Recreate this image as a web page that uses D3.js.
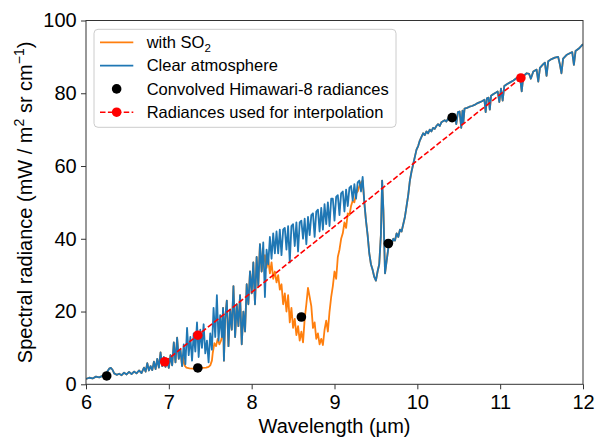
<!DOCTYPE html>
<html><head><meta charset="utf-8">
<script src="https://cdn.jsdelivr.net/npm/d3@7"></script>
<style>body{margin:0;background:#fff}svg{display:block}</style>
</head><body><svg id="c" width="597" height="441"></svg>
<script>
// ---- data ----
const clearAtmosphere = [
[6.00,1.5],[6.04,1.8],[6.08,1.6],[6.12,2.1],[6.16,1.9],[6.20,2.3],[6.23,2.2],[6.26,3.6],[6.28,4.3],[6.30,4.5],
[6.32,4.0],[6.34,3.0],[6.37,2.6],[6.40,2.9],[6.43,2.5],[6.46,3.2],[6.49,2.7],[6.52,3.4],[6.55,2.8],[6.58,3.5],
[6.61,3.0],[6.64,3.8],[6.67,3.1],[6.70,4.6],[6.72,3.5],[6.74,5.8],[6.76,3.8],[6.78,5.0],[6.80,3.9],[6.82,6.2],
[6.84,4.2],[6.86,7.0],[6.88,4.6],[6.90,8.8],[6.92,5.0],[6.94,7.5],[6.96,4.8],[6.98,6.5],[7.00,4.5],[7.02,8.0],
[7.04,5.2],[7.06,11.5],[7.08,6.0],[7.10,12.8],[7.12,7.0],[7.14,9.5],[7.16,5.0],[7.18,11.0],[7.20,5.5],[7.22,15.5],
[7.24,8.0],[7.26,13.0],[7.28,6.5],[7.30,14.0],[7.32,9.0],[7.34,17.0],[7.36,7.5],[7.38,15.0],[7.40,10.0],[7.42,16.5],
[7.44,8.5],[7.46,12.0],[7.48,6.0],[7.50,14.0],[7.52,9.5],[7.54,21.0],[7.56,13.0],[7.58,24.5],[7.60,12.0],[7.62,19.0],
[7.64,13.0],[7.655,21.0],[7.665,6.5],[7.68,18.0],[7.70,23.0],[7.72,10.5],[7.74,20.5],[7.76,15.0],[7.78,27.0],[7.80,13.0],
[7.82,22.0],[7.84,16.0],[7.86,24.5],[7.88,11.0],[7.90,20.0],[7.92,14.5],[7.94,27.5],[7.96,22.0],[7.98,31.0],[8.00,25.0],
[8.02,33.5],[8.04,22.0],[8.06,35.0],[8.08,27.0],[8.10,38.5],[8.12,31.0],[8.14,39.0],[8.16,24.0],[8.18,37.0],[8.20,33.0],
[8.22,40.5],[8.24,34.5],[8.26,41.5],[8.28,36.0],[8.30,42.0],[8.32,36.0],[8.34,42.5],[8.36,35.5],[8.38,42.5],[8.40,43.0],
[8.42,37.0],[8.44,43.5],[8.46,33.5],[8.48,43.5],[8.50,44.0],[8.52,38.0],[8.54,44.5],[8.56,36.5],[8.58,44.5],[8.60,45.0],
[8.62,40.0],[8.64,45.5],[8.66,38.5],[8.68,46.0],[8.70,41.0],[8.72,46.5],[8.74,47.0],[8.76,40.5],[8.78,47.5],[8.80,48.0],
[8.82,42.0],[8.84,48.5],[8.86,42.5],[8.88,49.5],[8.90,44.0],[8.92,50.0],[8.94,43.5],[8.96,51.0],[8.98,51.0],[9.00,45.0],
[9.02,51.5],[9.04,52.0],[9.06,46.5],[9.08,52.5],[9.10,53.0],[9.12,47.5],[9.14,53.5],[9.16,49.0],[9.18,54.0],[9.20,54.5],
[9.22,50.5],[9.24,55.0],[9.26,51.0],[9.28,55.5],[9.30,56.0],[9.32,53.0],[9.34,57.0],[9.36,50.0],[9.38,45.0],[9.40,41.0],
[9.42,36.0],[9.44,33.0],[9.46,31.5],[9.48,29.5],[9.50,28.5],[9.52,31.0],[9.54,33.0],[9.56,41.0],[9.575,56.0],[9.59,48.0],
[9.61,30.5],[9.63,34.0],[9.65,37.5],[9.67,39.0],[9.69,38.5],[9.71,40.0],[9.73,39.5],[9.75,41.5],[9.77,40.5],[9.79,42.5],
[9.81,42.0],[9.83,44.0],[9.85,46.0],[9.87,49.0],[9.89,52.0],[9.91,56.0],[9.93,58.5],[9.95,60.5],[9.97,62.5],[9.99,64.5],
[10.01,65.5],[10.03,67.0],[10.05,68.0],[10.07,69.0],[10.09,68.5],[10.11,69.5],[10.13,69.0],[10.15,70.0],[10.17,69.5],[10.19,70.5],
[10.21,70.2],[10.23,71.0],[10.25,71.5],[10.27,71.0],[10.29,72.0],[10.31,72.3],[10.33,72.6],[10.35,72.2],[10.37,73.0],[10.39,73.3],
[10.41,73.6],[10.43,73.8],[10.45,74.3],[10.47,71.5],[10.49,74.8],[10.51,75.0],[10.53,70.5],[10.545,75.2],[10.555,71.8],[10.57,75.8],
[10.60,76.0],[10.63,76.3],[10.66,76.5],[10.69,76.8],[10.72,77.2],[10.75,77.5],[10.78,77.8],[10.81,78.2],[10.825,74.8],[10.84,78.6],
[10.86,78.8],[10.875,75.5],[10.89,79.3],[10.92,79.8],[10.95,80.2],[10.97,80.5],[10.99,77.6],[11.01,81.3],[11.03,78.0],[11.05,82.0],
[11.08,82.5],[11.12,83.0],[11.16,83.5],[11.20,84.2],[11.24,84.4],[11.26,80.5],[11.28,84.7],[11.32,85.5],[11.35,85.3],[11.37,84.0],
[11.40,86.0],[11.44,86.5],[11.46,83.2],[11.48,87.0],[11.52,88.0],[11.54,88.4],[11.56,84.8],[11.58,88.8],[11.62,89.4],[11.66,89.8],
[11.70,90.0],[11.72,88.0],[11.74,85.5],[11.76,89.5],[11.80,90.5],[11.84,91.0],[11.87,91.3],[11.89,87.8],[11.91,91.6],[11.95,92.3],
[11.98,93.0],[12.00,93.5]
];
// Spectrum with SO2: differs from the clear atmosphere in the two SO2 bands
const so2Band73 = [
[7.17,7.6],[7.19,5.2],[7.21,4.6],[7.25,4.4],[7.30,4.3],[7.35,4.4],[7.40,4.5],[7.45,4.6],[7.48,4.8],[7.50,5.2],
[7.52,6.5],[7.53,8.6],[7.55,11.3],[7.57,10.5],[7.59,12.5],[7.61,11.0],[7.63,12.0]
];
const so2Band86 = [
[8.14,33.0],[8.16,35.5],[8.18,32.0],[8.20,34.5],[8.22,30.5],[8.24,33.5],[8.26,29.0],[8.28,31.0],[8.30,28.0],[8.32,30.0],
[8.34,26.0],[8.36,27.5],[8.38,22.0],[8.40,25.0],[8.42,20.0],[8.44,24.5],[8.46,17.0],[8.48,21.0],[8.50,15.5],[8.52,18.0],
[8.54,13.5],[8.56,16.0],[8.58,12.0],[8.60,14.5],[8.62,11.5],[8.64,18.0],[8.66,22.0],[8.68,26.5],[8.70,24.0],[8.72,21.5],
[8.74,15.5],[8.76,17.0],[8.78,12.5],[8.80,14.0],[8.82,11.0],[8.84,12.5],[8.86,10.8],[8.88,15.0],[8.90,17.5],[8.92,14.5],
[8.94,20.0],[8.96,24.0],[8.98,27.0],[9.00,31.0],[9.02,29.0],[9.04,35.0],[9.06,37.0],[9.08,40.0],[9.10,41.5],[9.12,44.5],
[9.14,43.0],[9.16,47.0],[9.18,46.5],[9.20,49.0],[9.22,50.5],[9.24,50.0],[9.26,52.5],[9.28,53.0],[9.30,54.5],[9.32,55.5],
[9.34,56.0],[9.36,50.0]
];
const himawariWl  = [6.25, 7.35, 8.60, 9.65, 10.42];
const himawariRad = [2.3, 4.5, 18.5, 38.7, 73.3];
const interpWl  = [6.95, 7.35, 11.25];
const interpRad = [6.2, 13.5, 84.2];
const xTicks = [6, 7, 8, 9, 10, 11, 12];
const yTicks = [0, 20, 40, 60, 80, 100];

// ---- assemble SO2 series from read segments ----
const withSO2 = [].concat(
  clearAtmosphere.filter(d => d[0] < 7.17),
  so2Band73,
  clearAtmosphere.filter(d => d[0] >= 7.64 && d[0] < 8.14),
  so2Band86,
  clearAtmosphere.filter(d => d[0] > 9.37)
);

// ---- layout ----
const svg = d3.select('#c');
const L = 86, R = 583, T = 20.5, B = 384.3;
const x = d3.scaleLinear().domain([6, 12]).range([L, R]);
const y = d3.scaleLinear().domain([0, 100]).range([B, T]);
const FONT = '"Liberation Sans", Arial, Helvetica, sans-serif';

svg.append('defs').append('clipPath').attr('id', 'clip')
  .append('rect').attr('x', L).attr('y', T).attr('width', R - L).attr('height', B - T);

const line = d3.line().x(d => x(d[0])).y(d => y(d[1]));
const plot = svg.append('g').attr('clip-path', 'url(#clip)');

plot.append('path').datum(withSO2).attr('d', line)
  .attr('fill', 'none').attr('stroke', '#ff7f0e').attr('stroke-width', 1.8).attr('stroke-linejoin', 'round');
plot.append('path').datum(clearAtmosphere).attr('d', line)
  .attr('fill', 'none').attr('stroke', '#1f77b4').attr('stroke-width', 1.8).attr('stroke-linejoin', 'round');

plot.selectAll('circle.him').data(himawariWl).join('circle').attr('class', 'him')
  .attr('cx', d => x(d)).attr('cy', (d, i) => y(himawariRad[i])).attr('r', 4.8).attr('fill', '#000');

const interp = interpWl.map((w, i) => [w, interpRad[i]]);
plot.append('path').datum(interp).attr('d', line)
  .attr('fill', 'none').attr('stroke', '#ff0000').attr('stroke-width', 1.6).attr('stroke-dasharray', '5.5,2.4');
plot.selectAll('circle.int').data(interp).join('circle').attr('class', 'int')
  .attr('cx', d => x(d[0])).attr('cy', d => y(d[1])).attr('r', 4.8).attr('fill', '#ff0000');

// ---- axes ----
const xa = svg.append('g').attr('transform', `translate(0,${B})`)
  .call(d3.axisBottom(x).tickValues(xTicks).tickSize(5).tickPadding(5.5).tickFormat(d3.format('d')));
const ya = svg.append('g').attr('transform', `translate(${L},0)`)
  .call(d3.axisLeft(y).tickValues(yTicks).tickSize(5).tickPadding(4.3).tickFormat(d3.format('d')));
[xa, ya].forEach(a => {
  a.select('.domain').remove();
  a.selectAll('line').attr('stroke', '#333').attr('stroke-width', 1);
  a.selectAll('text').attr('font-family', FONT).attr('font-size', 20).attr('fill', '#000');
});

svg.append('rect').attr('x', L).attr('y', T).attr('width', R - L).attr('height', B - T)
  .attr('fill', 'none').attr('stroke', '#333').attr('stroke-width', 1);

// axis labels
svg.append('text').attr('x', (L + R) / 2).attr('y', 433).attr('text-anchor', 'middle')
  .attr('font-family', FONT).attr('font-size', 20).text('Wavelength (µm)');

const yl = svg.append('text').attr('transform', `translate(31.5,${(T + B) / 2}) rotate(-90)`)
  .attr('text-anchor', 'middle').attr('font-family', FONT).attr('font-size', 20);
yl.append('tspan').text('Spectral radiance (mW / m');
yl.append('tspan').attr('font-size', 14).attr('dy', -8).text('2');
yl.append('tspan').attr('dy', 8).text(' sr cm');
yl.append('tspan').attr('font-size', 14).attr('dy', -8).text('\u22121');
yl.append('tspan').attr('dy', 8).text(')');

// ---- legend ----
const lg = svg.append('g');
lg.append('rect').attr('x', 94).attr('y', 29.3).attr('width', 302).attr('height', 98).attr('rx', 4)
  .attr('fill', '#fff').attr('fill-opacity', 0.8).attr('stroke', '#cccccc').attr('stroke-width', 1);
const rows = [42.3, 65.6, 88.9, 112.2];
const hx0 = 100, hx1 = 133.3, tx = 146.7;
lg.append('line').attr('x1', hx0).attr('x2', hx1).attr('y1', rows[0]).attr('y2', rows[0])
  .attr('stroke', '#ff7f0e').attr('stroke-width', 1.8);
lg.append('line').attr('x1', hx0).attr('x2', hx1).attr('y1', rows[1]).attr('y2', rows[1])
  .attr('stroke', '#1f77b4').attr('stroke-width', 1.8);
lg.append('circle').attr('cx', (hx0 + hx1) / 2).attr('cy', rows[2]).attr('r', 4.8).attr('fill', '#000');
lg.append('line').attr('x1', hx0).attr('x2', hx1).attr('y1', rows[3]).attr('y2', rows[3])
  .attr('stroke', '#ff0000').attr('stroke-width', 1.6).attr('stroke-dasharray', '5.5,2.4');
lg.append('circle').attr('cx', (hx0 + hx1) / 2).attr('cy', rows[3]).attr('r', 4.8).attr('fill', '#ff0000');

const t0 = lg.append('text').attr('x', tx).attr('y', rows[0]).attr('dy', '0.35em')
  .attr('font-family', FONT).attr('font-size', 16.5);
t0.append('tspan').text('with SO');
t0.append('tspan').attr('font-size', 11.5).attr('dy', 4).text('2');
['Clear atmosphere', 'Convolved Himawari-8 radiances', 'Radiances used for interpolation'].forEach((s, i) => {
  lg.append('text').attr('x', tx).attr('y', rows[i + 1]).attr('dy', '0.35em')
    .attr('font-family', FONT).attr('font-size', 16.5).text(s);
});
</script></body></html>
